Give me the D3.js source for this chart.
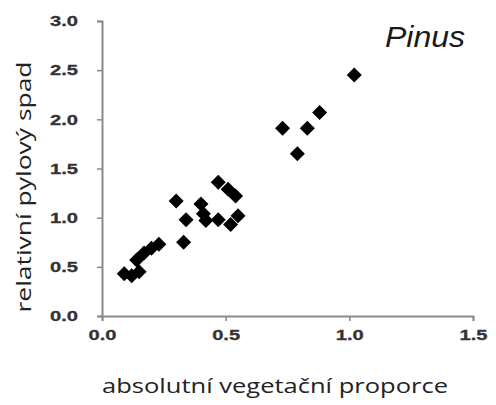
<!DOCTYPE html>
<html>
<head>
<meta charset="utf-8">
<script src="https://cdn.jsdelivr.net/npm/d3@7"></script>
<style>
  html, body { margin: 0; padding: 0; background: #fff; }
  svg { display: block; }
</style>
</head>
<body>
<svg id="chart" width="496" height="405"></svg>
<script>
const xValues = [0.09, 0.12, 0.15, 0.14, 0.17, 0.20, 0.23, 0.30, 0.34, 0.33, 0.40, 0.41, 0.42, 0.47, 0.51, 0.54, 0.47, 0.52, 0.55, 0.73, 0.79, 0.83, 0.88, 1.02];
const yValues = [0.43, 0.41, 0.45, 0.57, 0.64, 0.69, 0.73, 1.17, 0.98, 0.75, 1.14, 1.04, 0.97, 1.36, 1.29, 1.22, 0.98, 0.93, 1.02, 1.91, 1.65, 1.91, 2.07, 2.45];
const xTicks = [0, 0.5, 1.0, 1.5];
const yTicks = [0, 0.5, 1.0, 1.5, 2.0, 2.5, 3.0];
const xTitle = "absolutní vegetační proporce";
const yTitle = "relativní pylový spad";
const label = "Pinus";

const svg = d3.select("#chart");
const x = d3.scaleLinear().domain([0, 1.5]).range([102, 473]);
const y = d3.scaleLinear().domain([0, 3]).range([316, 21]);

const axisColor = "#8a8a8a";
const tickFont = "bold 15px 'Liberation Sans', Arial, sans-serif";

const gx = svg.append("g").attr("transform", `translate(0,${y(0)})`)
  .call(d3.axisBottom(x).tickValues(xTicks).tickFormat(d3.format(".1f")).tickSize(5).tickPadding(8));
const gy = svg.append("g").attr("transform", `translate(${x(0)},0)`)
  .call(d3.axisLeft(y).tickValues(yTicks).tickFormat(d3.format(".1f")).tickSize(5).tickPadding(19));

[gx, gy].forEach(g => {
  g.select(".domain").attr("stroke", axisColor).attr("stroke-width", 2);
  g.selectAll(".tick line").attr("stroke", axisColor).attr("stroke-width", 1.5);
  g.selectAll(".tick text").style("font", tickFont).attr("fill", "#333")
    .attr("stroke", "#333").attr("stroke-width", 0.3)
    .attr("textLength", 28).attr("lengthAdjust", "spacingAndGlyphs");
});
gx.selectAll(".tick text").style("font-size", "15.5px");

const pts = xValues.map((v, i) => ({x: v, y: yValues[i]}));
const r = 7.5;
svg.append("g").selectAll("path").data(pts).join("path")
  .attr("transform", d => `translate(${x(d.x)},${y(d.y)})`)
  .attr("d", `M0,${-r}L${r},0L0,${r}L${-r},0Z`)
  .attr("fill", "#000");

svg.append("text")
  .attr("x", 425).attr("y", 47)
  .attr("text-anchor", "middle")
  .attr("textLength", 80).attr("lengthAdjust", "spacingAndGlyphs")
  .style("font", "italic 29px 'Liberation Sans', Arial, sans-serif")
  .attr("fill", "#1a1a1a")
  .text(label);

svg.append("text")
  .attr("x", 275).attr("y", 393)
  .attr("text-anchor", "middle")
  .attr("textLength", 346).attr("lengthAdjust", "spacingAndGlyphs")
  .style("font", "20px 'Open Sans', sans-serif")
  .attr("fill", "#222")
  .text(xTitle);

svg.append("text")
  .attr("transform", `translate(31,187) rotate(-90)`)
  .attr("text-anchor", "middle")
  .attr("textLength", 251).attr("lengthAdjust", "spacingAndGlyphs")
  .style("font", "20px 'Open Sans', sans-serif")
  .attr("fill", "#222")
  .text(yTitle);
</script>
</body>
</html>
